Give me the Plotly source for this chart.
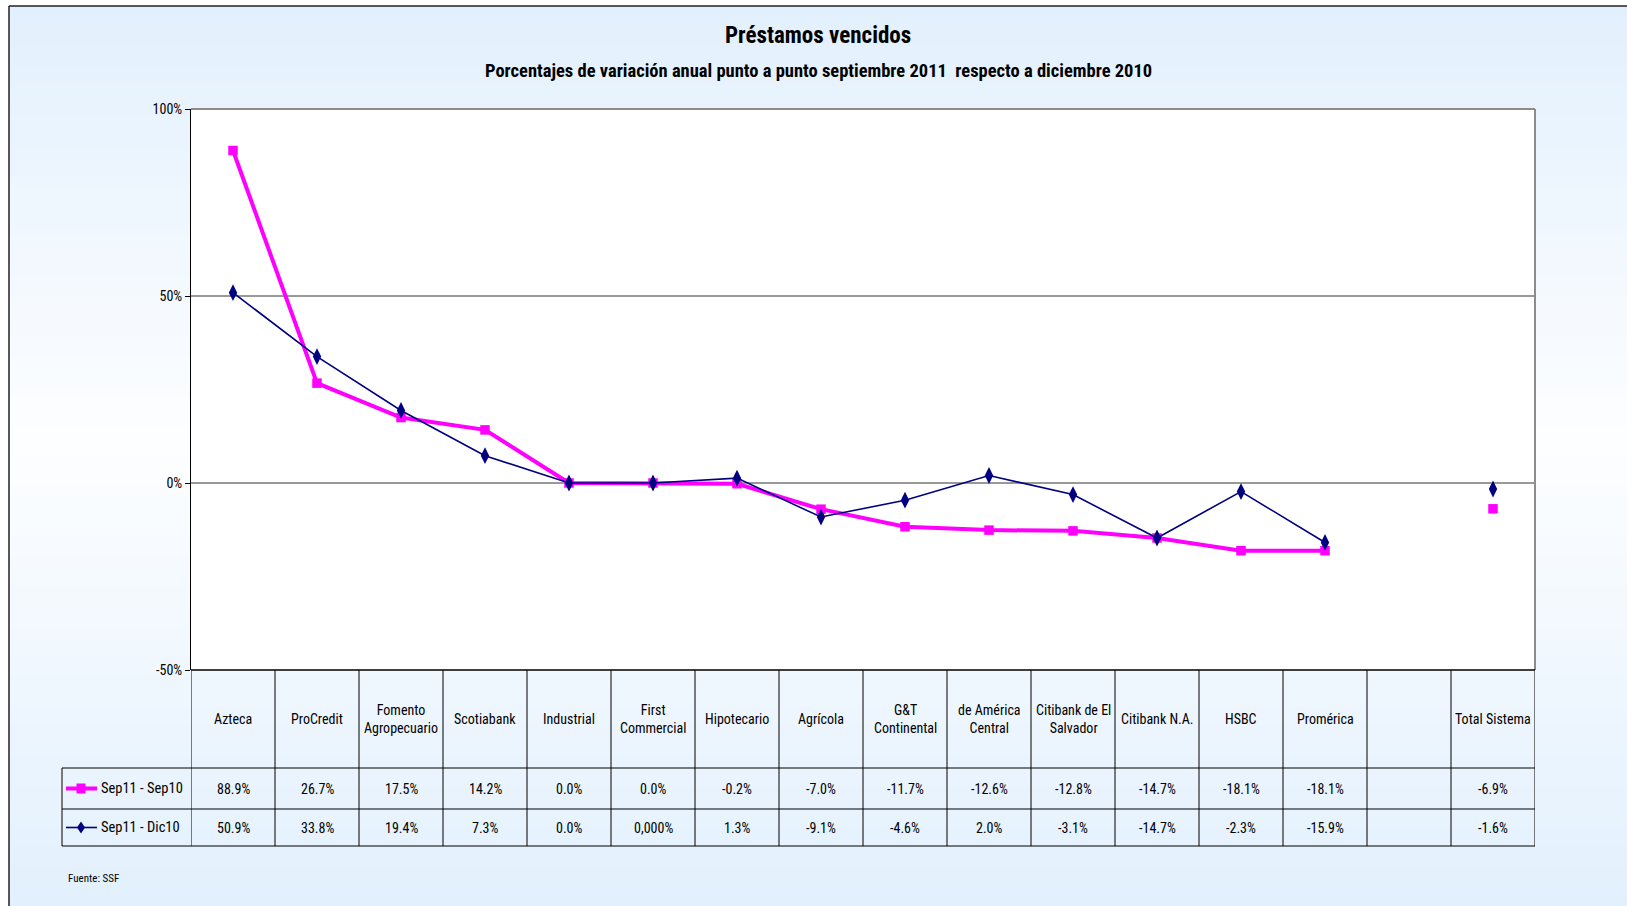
import plotly.graph_objects as go

# --- DATA ---
BANCOS = ["Azteca", "ProCredit", "Fomento<br>Agropecuario", "Scotiabank", "Industrial",
          "First<br>Commercial", "Hipotecario", "Agrícola", "G&T<br>Continental",
          "de América<br>Central", "Citibank de El<br>Salvador", "Citibank N.A.", "HSBC",
          "Promérica", "", "Total Sistema"]
SEP11_SEP10 = [88.9, 26.7, 17.5, 14.2, 0.0, 0.0, -0.2, -7.0, -11.7, -12.6, -12.8, -14.7, -18.1, -18.1, None, -6.9]
SEP11_DIC10 = [50.9, 33.8, 19.4, 7.3, 0.0, 0.0, 1.3, -9.1, -4.6, 2.0, -3.1, -14.7, -2.3, -15.9, None, -1.6]
TXT_SEP10 = ["88.9%", "26.7%", "17.5%", "14.2%", "0.0%", "0.0%", "-0.2%", "-7.0%", "-11.7%", "-12.6%",
             "-12.8%", "-14.7%", "-18.1%", "-18.1%", "", "-6.9%"]
TXT_DIC10 = ["50.9%", "33.8%", "19.4%", "7.3%", "0.0%", "0,000%", "1.3%", "-9.1%", "-4.6%", "2.0%",
             "-3.1%", "-14.7%", "-2.3%", "-15.9%", "", "-1.6%"]
Y_TICKS = [-50, 0, 50, 100]
Y_LABELS = ["-50%", "0%", "50%", "100%"]

# --- CONFIG ---
W, H = 1627, 906
FONT = "Roboto Condensed, Liberation Sans Narrow, Liberation Sans, Arial, sans-serif"
MAGENTA = "#FF00FF"
NAVY = "#000080"
BG_EDGE = (226, 240, 253)   # azul claro arriba/abajo
BG_MID = (253, 254, 255)    # casi blanco al centro
TS = 14  # tamaño de texto de la tabla

def px(x):
    return x / W

def py(y):
    return 1 - y / H

PLOT_L, PLOT_R, PLOT_T, PLOT_B = 191, 1535, 109, 670
ROW1, ROW2, TBL_B = 768, 809, 846
LEG_L = 62

xs = list(range(len(BANCOS)))

fig = go.Figure()
fig.add_trace(go.Scatter(x=xs, y=SEP11_SEP10, name="Sep11 - Sep10", mode="lines+markers",
                         line=dict(color=MAGENTA, width=4),
                         marker=dict(symbol="square", size=9.5, color=MAGENTA),
                         connectgaps=False))
fig.add_trace(go.Scatter(x=xs, y=SEP11_DIC10, name="Sep11 - Dic10", mode="lines+markers",
                         line=dict(color=NAVY, width=1.6),
                         marker=dict(symbol="diamond-tall", size=12, color=NAVY),
                         connectgaps=False))

def rect(x0, x1, y0, y1, fill):
    return dict(type="rect", xref="paper", yref="paper", x0=px(x0), x1=px(x1),
                y0=py(y1), y1=py(y0), fillcolor=fill, line=dict(width=0), layer="below")

def hline(x0, x1, y, color="black", width=1):
    return dict(type="line", xref="paper", yref="paper", x0=px(x0), x1=px(x1),
                y0=py(y), y1=py(y), line=dict(color=color, width=width))

shapes = []
# fondo degradado (azul -> blanco -> azul) en franjas
N_BANDS, Y_MID = 90, 440
band_h = (H - 6) / N_BANDS
for k in range(N_BANDS):
    y0 = 6 + k * band_h
    yc = y0 + band_h / 2
    t = (Y_MID - yc) / (Y_MID - 6) if yc < Y_MID else (yc - Y_MID) / (H - Y_MID)
    t = max(0.0, min(1.0, t))
    c = tuple(round(BG_MID[j] + (BG_EDGE[j] - BG_MID[j]) * t) for j in range(3))
    shapes.append(rect(9, W, y0, y0 + band_h + 0.6, f"rgb{c}"))
shapes.append(rect(PLOT_L, PLOT_R, PLOT_T, PLOT_B, "white"))
# borde gris del area de trazado
shapes.append(hline(PLOT_L, PLOT_R, PLOT_T, "#8C8C8C", 2))
shapes.append(dict(type="line", xref="paper", yref="paper", x0=px(PLOT_R), x1=px(PLOT_R),
                   y0=py(PLOT_T), y1=py(PLOT_B), line=dict(color="#8C8C8C", width=2)))
# lineas de la tabla
shapes.append(hline(PLOT_L, PLOT_R, PLOT_B, "black", 1.5))
for y in [ROW1, ROW2, TBL_B]:
    shapes.append(hline(LEG_L, PLOT_R, y))
for i in range(len(BANCOS) + 1):
    shapes.append(dict(type="line", xref="x", yref="paper", x0=i - 0.5, x1=i - 0.5,
                       y0=py(TBL_B), y1=py(PLOT_B), line=dict(color="black", width=1)))
shapes.append(dict(type="line", xref="paper", yref="paper", x0=px(LEG_L), x1=px(LEG_L),
                   y0=py(TBL_B), y1=py(ROW1), line=dict(color="black", width=1)))
# claves de la leyenda
ky1, ky2 = (ROW1 + ROW2) / 2, (ROW2 + TBL_B) / 2
shapes.append(hline(66, 97, ky1, MAGENTA, 4))
shapes.append(dict(type="rect", xref="paper", yref="paper", x0=px(76.5), x1=px(85.5),
                   y0=py(ky1 + 5), y1=py(ky1 - 5), fillcolor=MAGENTA, line=dict(width=0)))
shapes.append(hline(66, 97, ky2, NAVY, 1.6))
shapes.append(dict(type="path", xref="paper", yref="paper",
                   path=f"M {px(81)} {py(ky2 - 6)} L {px(85)} {py(ky2)} L {px(81)} {py(ky2 + 6)} L {px(77)} {py(ky2)} Z",
                   fillcolor=NAVY, line=dict(width=0)))
# marco exterior (izquierda y arriba)
shapes.append(hline(9, W, 6, "#202020", 1.5))
shapes.append(dict(type="line", xref="paper", yref="paper", x0=px(9), x1=px(9),
                   y0=0, y1=py(6), line=dict(color="#202020", width=1.5)))

annotations = []
annotations.append(dict(text="<b>Préstamos vencidos</b>", xref="paper", yref="paper",
                        x=px(818), y=py(36), showarrow=False, xanchor="center", yanchor="middle",
                        font=dict(family=FONT, size=23, color="black")))
annotations.append(dict(text="<b>Porcentajes de variación anual punto a punto septiembre 2011  respecto a diciembre 2010</b>",
                        xref="paper", yref="paper", x=px(818), y=py(71), showarrow=False,
                        xanchor="center", yanchor="middle", font=dict(family=FONT, size=18.5, color="black")))
for i, b in enumerate(BANCOS):
    annotations.append(dict(text=b, xref="x", yref="paper", x=i, y=py((PLOT_B + ROW1) / 2),
                            showarrow=False, xanchor="center", yanchor="middle",
                            font=dict(family=FONT, size=TS, color="black")))
    annotations.append(dict(text=TXT_SEP10[i], xref="x", yref="paper", x=i, y=py(ky1),
                            showarrow=False, xanchor="center", yanchor="middle",
                            font=dict(family=FONT, size=TS, color="black")))
    annotations.append(dict(text=TXT_DIC10[i], xref="x", yref="paper", x=i, y=py(ky2),
                            showarrow=False, xanchor="center", yanchor="middle",
                            font=dict(family=FONT, size=TS, color="black")))
annotations.append(dict(text="Sep11 - Sep10", xref="paper", yref="paper", x=px(99), y=py(ky1),
                        showarrow=False, xanchor="left", yanchor="middle",
                        font=dict(family=FONT, size=14.5, color="black")))
annotations.append(dict(text="Sep11 - Dic10", xref="paper", yref="paper", x=px(99), y=py(ky2),
                        showarrow=False, xanchor="left", yanchor="middle",
                        font=dict(family=FONT, size=14.5, color="black")))
annotations.append(dict(text="Fuente: SSF", xref="paper", yref="paper", x=px(66), y=py(878),
                        showarrow=False, xanchor="left", yanchor="middle",
                        font=dict(family=FONT, size=11, color="black")))

fig.update_layout(
    width=W, height=H,
    margin=dict(l=0, r=0, t=0, b=0, pad=0, autoexpand=False),
    paper_bgcolor="white", plot_bgcolor="white",
    showlegend=False,
    font=dict(family=FONT, size=14, color="black"),
    xaxis=dict(domain=[px(PLOT_L), px(PLOT_R)], range=[-0.5, len(BANCOS) - 0.5],
               showticklabels=False, showgrid=False, zeroline=False, ticks="", automargin=False),
    yaxis=dict(domain=[py(PLOT_B), py(PLOT_T)], range=[-50, 100],
               tickvals=Y_TICKS, ticktext=Y_LABELS, ticks="outside", ticklen=5,
               tickcolor="black", showline=True, linecolor="black", linewidth=1,
               showgrid=True, gridcolor="#999999", gridwidth=1.5, zeroline=False,
               automargin=False, tickfont=dict(family=FONT, size=14)),
    shapes=shapes, annotations=annotations,
)

fig.write_html("out.html", config={"displayModeBar": False},
               post_script="document.body.style.margin='0px';")
